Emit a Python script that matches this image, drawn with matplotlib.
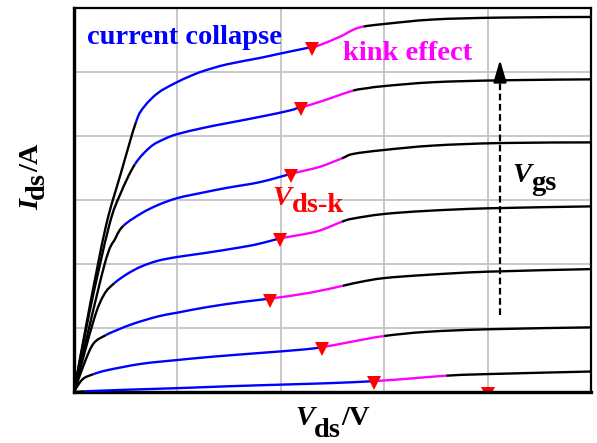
"""
plot.py - GaN HEMT output characteristics sketch: current collapse + kink effect.
"""
import matplotlib
matplotlib.use("Agg")
import matplotlib.pyplot as plt
import matplotlib.transforms as mtransforms
from matplotlib.path import Path
from matplotlib.patches import PathPatch
import numpy as np

# Ids-Vds curves, bottom (lowest Vgs) to top, in grid units
VDS_1 = [0, 0.10, 0.50, 1.00, 1.50, 2.00, 2.50, 2.90, 3.25, 3.60, 4.00, 5.00]
IDS_1 = [0, 0.01, 0.035, 0.06, 0.09, 0.115, 0.14, 0.17, 0.21, 0.255, 0.28, 0.32]

VDS_2 = [0, 0.05, 0.10, 0.19, 0.32, 0.65, 1.00, 1.26, 1.48, 1.80, 2.19, 2.40, 2.70, 3.00, 3.41, 4.00, 5.00]
IDS_2 = [0, 0.135, 0.22, 0.28, 0.34, 0.44, 0.50, 0.54, 0.57, 0.61, 0.66, 0.70, 0.79, 0.875, 0.94, 0.98, 1.01]

VDS_3 = [0, 0.10, 0.19, 0.31, 0.42, 0.58, 0.81, 1.00, 1.30, 1.64, 1.90, 2.28, 2.60, 2.77, 3.00, 3.41, 4.00, 5.00]
IDS_3 = [0, 0.45, 0.76, 0.89, 0.97, 1.07, 1.18, 1.24, 1.33, 1.41, 1.46, 1.55, 1.66, 1.72, 1.78, 1.83, 1.88, 1.92]

VDS_4 = [0, 0.19, 0.29, 0.39, 0.52, 0.65, 0.81, 1.00, 1.26, 1.61, 1.80, 1.99, 2.06, 2.35, 2.59, 2.70, 2.99, 3.41, 4.00, 5.00]
IDS_4 = [0, 1.12, 1.52, 1.70, 1.85, 1.96, 2.05, 2.11, 2.17, 2.26, 2.32, 2.40, 2.42, 2.51, 2.66, 2.71, 2.78, 2.83, 2.87, 2.90]

VDS_5 = [0, 0.29, 0.40, 0.48, 0.65, 0.81, 1.00, 1.26, 1.48, 1.80, 2.10, 2.15, 2.38, 2.59, 2.70, 2.99, 3.47, 4.12, 5.00]
IDS_5 = [0, 1.96, 2.40, 2.60, 2.79, 2.92, 3.03, 3.12, 3.19, 3.28, 3.41, 3.43, 3.52, 3.65, 3.72, 3.78, 3.85, 3.89, 3.90]

VDS_6 = [0, 0.15, 0.34, 0.45, 0.59, 0.74, 0.87, 1.00, 1.26, 1.48, 1.80, 2.09, 2.20, 2.27, 2.48, 2.70, 2.85, 3.00, 3.47, 4.12, 5.00]
IDS_6 = [0, 1.25, 2.60, 3.10, 3.56, 3.83, 3.95, 4.03, 4.13, 4.20, 4.30, 4.40, 4.46, 4.48, 4.59, 4.71, 4.75, 4.78, 4.84, 4.87, 4.885]

VDS_7 = [0, 0.15, 0.31, 0.45, 0.60, 0.68, 0.81, 0.97, 1.13, 1.26, 1.48, 1.80, 2.00, 2.30, 2.36, 2.57, 2.70, 2.80, 3.00, 3.47, 4.12, 5.00]
IDS_7 = [0, 1.32, 2.60, 3.40, 4.22, 4.46, 4.67, 4.82, 4.94, 5.02, 5.12, 5.22, 5.29, 5.39, 5.41, 5.55, 5.66, 5.71, 5.75, 5.82, 5.85, 5.86]

# segment breakpoints per curve: linear -> collapse (blue) -> kink (magenta) -> saturation
KNEE_VDS = [0.10, 0.19, 0.31, 0.39, 0.48, 0.59, 0.60]
KINK_VDS = [2.90, 2.40, 1.90, 1.99, 2.10, 2.20, 2.30]
SAT_VDS = [3.60, 3.00, 2.60, 2.59, 2.59, 2.70, 2.80]

# lowest Vgs curve: only its Vds-k marker shows, sitting on the axis
KINK0_VDS = 4.0
KINK0_IDS = 0.0

VGS_ARROW_X = 4.12
VGS_ARROW_Y = [1.2, 4.95, 5.19]

X_GRID = [0, 1, 2, 3, 4, 5]
Y_GRID = [0, 1, 2, 3, 4, 5, 6]

BLUE, MAGENTA, RED = "#0000ff", "#ff00ff", "#ff0000"
FONT = "Liberation Serif"
FS = 20.5


def smooth_segment(v, i, a, b):
    """Catmull-Rom style Bezier path through knots a..b (tangents from the whole curve)."""
    p = np.column_stack([v, i])
    ext = np.vstack([p[0], p, p[-1]])
    verts, codes = [p[a]], [Path.MOVETO]
    for k in range(a, b):
        c1 = p[k] + (ext[k + 2] - ext[k]) / 6
        c2 = p[k + 1] - (ext[k + 3] - ext[k + 1]) / 6
        verts += [c1, c2, p[k + 1]]
        codes += [Path.CURVE4] * 3
    return Path(verts, codes)


def rich_text(ax, x, y, parts, transform, rotation=0, color="k", fs=FS):
    """Draw a label made of pieces (text, style, baseline shift in pt) next to each other."""
    s, style, _ = parts[0]
    t = ax.text(x, y, s, transform=transform, ha="left", va="baseline",
                rotation=rotation, rotation_mode="anchor",
                fontsize=fs, family=FONT, fontweight="bold", fontstyle=style, color=color)
    for s, style, shift in parts[1:]:
        if rotation == 0:
            kw = dict(xy=(1, 0), xytext=(0, shift), ha="left", va="bottom")
        else:
            kw = dict(xy=(1, 1), xytext=(-shift, 0), ha="right", va="bottom", rotation=90)
        t = ax.annotate(s, xycoords=t, textcoords="offset points", fontsize=fs,
                        family=FONT, fontweight="bold", fontstyle=style, color=color, **kw)
    return t


def main():
    fig = plt.figure(figsize=(5.97, 4.43), dpi=100)
    ax = fig.add_axes([74 / 597, 51 / 443, 517 / 597, 384 / 443])
    ax.set_xlim(0, 5)
    ax.set_ylim(0, 6)

    ax.set_xticks(X_GRID)
    ax.set_yticks(Y_GRID)
    ax.tick_params(length=0, labelbottom=False, labelleft=False)
    ax.grid(True, color="#c8c8c8", lw=1.4)
    ax.set_axisbelow(True)
    for side in ["left", "bottom"]:
        ax.spines[side].set_linewidth(2.4)
    for side in ["top", "right"]:
        ax.spines[side].set_linewidth(1.6)

    curves = [(VDS_1, IDS_1), (VDS_2, IDS_2), (VDS_3, IDS_3), (VDS_4, IDS_4),
              (VDS_5, IDS_5), (VDS_6, IDS_6), (VDS_7, IDS_7)]

    # shift markers a couple of px down so the line runs through their upper part
    mk_tr = ax.transData + mtransforms.ScaledTranslation(0, -0.02, fig.dpi_scale_trans)

    for (v, i), knee, kink, sat in zip(curves, KNEE_VDS, KINK_VDS, SAT_VDS):
        v = np.array(v, dtype=float); i = np.array(i, dtype=float)
        idx = [0] + [int(np.argmin(abs(v - x))) for x in (knee, kink, sat)] + [len(v) - 1]
        for (a, b), clr in zip(zip(idx[:-1], idx[1:]), ["k", BLUE, MAGENTA, "k"]):
            ax.add_patch(PathPatch(smooth_segment(v, i, a, b), fill=False, edgecolor=clr,
                                   lw=1.7, capstyle="butt", joinstyle="round", zorder=3))
        ax.plot([kink], [np.interp(kink, v, i)], "v", color=RED, ms=9.5, mew=0,
                transform=mk_tr, zorder=5)

    ax.plot([KINK0_VDS], [KINK0_IDS], "v", color=RED, ms=9.5, mew=0,
            transform=mk_tr, zorder=1)

    # Vgs arrow
    ax.plot([VGS_ARROW_X, VGS_ARROW_X], VGS_ARROW_Y[:2], color="k", lw=1.6,
            dashes=(3, 1.6), zorder=4)
    ax.annotate("", xy=(VGS_ARROW_X, VGS_ARROW_Y[2]), xytext=(VGS_ARROW_X, VGS_ARROW_Y[1]),
                arrowprops=dict(arrowstyle="-|>,head_length=0.75,head_width=0.22",
                                mutation_scale=18, color="k", lw=1.6, shrinkA=0, shrinkB=0),
                zorder=4)

    ax.text(0.126, 5.44, "current collapse", color=BLUE, fontsize=FS, family=FONT,
            fontweight="bold", ha="left", va="baseline")
    ax.text(2.60, 5.19, "kink effect", color=MAGENTA, fontsize=FS, family=FONT,
            fontweight="bold", ha="left", va="baseline")
    rich_text(ax, 1.92, 2.92, [("V", "italic", 0), ("ds-k", "normal", -5)],
              ax.transData, color=RED)
    rich_text(ax, 4.24, 3.28, [("V", "italic", 0), ("gs", "normal", -5.5)], ax.transData)

    # axis labels
    rich_text(ax, 295 / 597, (443 - 425) / 443,
              [("V", "italic", 0), ("ds", "normal", -8.5), ("/V", "normal", 8.5)],
              fig.transFigure)
    rich_text(ax, 38 / 597, (443 - 210) / 443,
              [("I", "italic", 0), ("ds", "normal", -4), ("/A", "normal", 4)],
              fig.transFigure, rotation=90)

    fig.savefig("out.png", dpi=100)
    plt.close(fig)


if __name__ == "__main__":
    main()
